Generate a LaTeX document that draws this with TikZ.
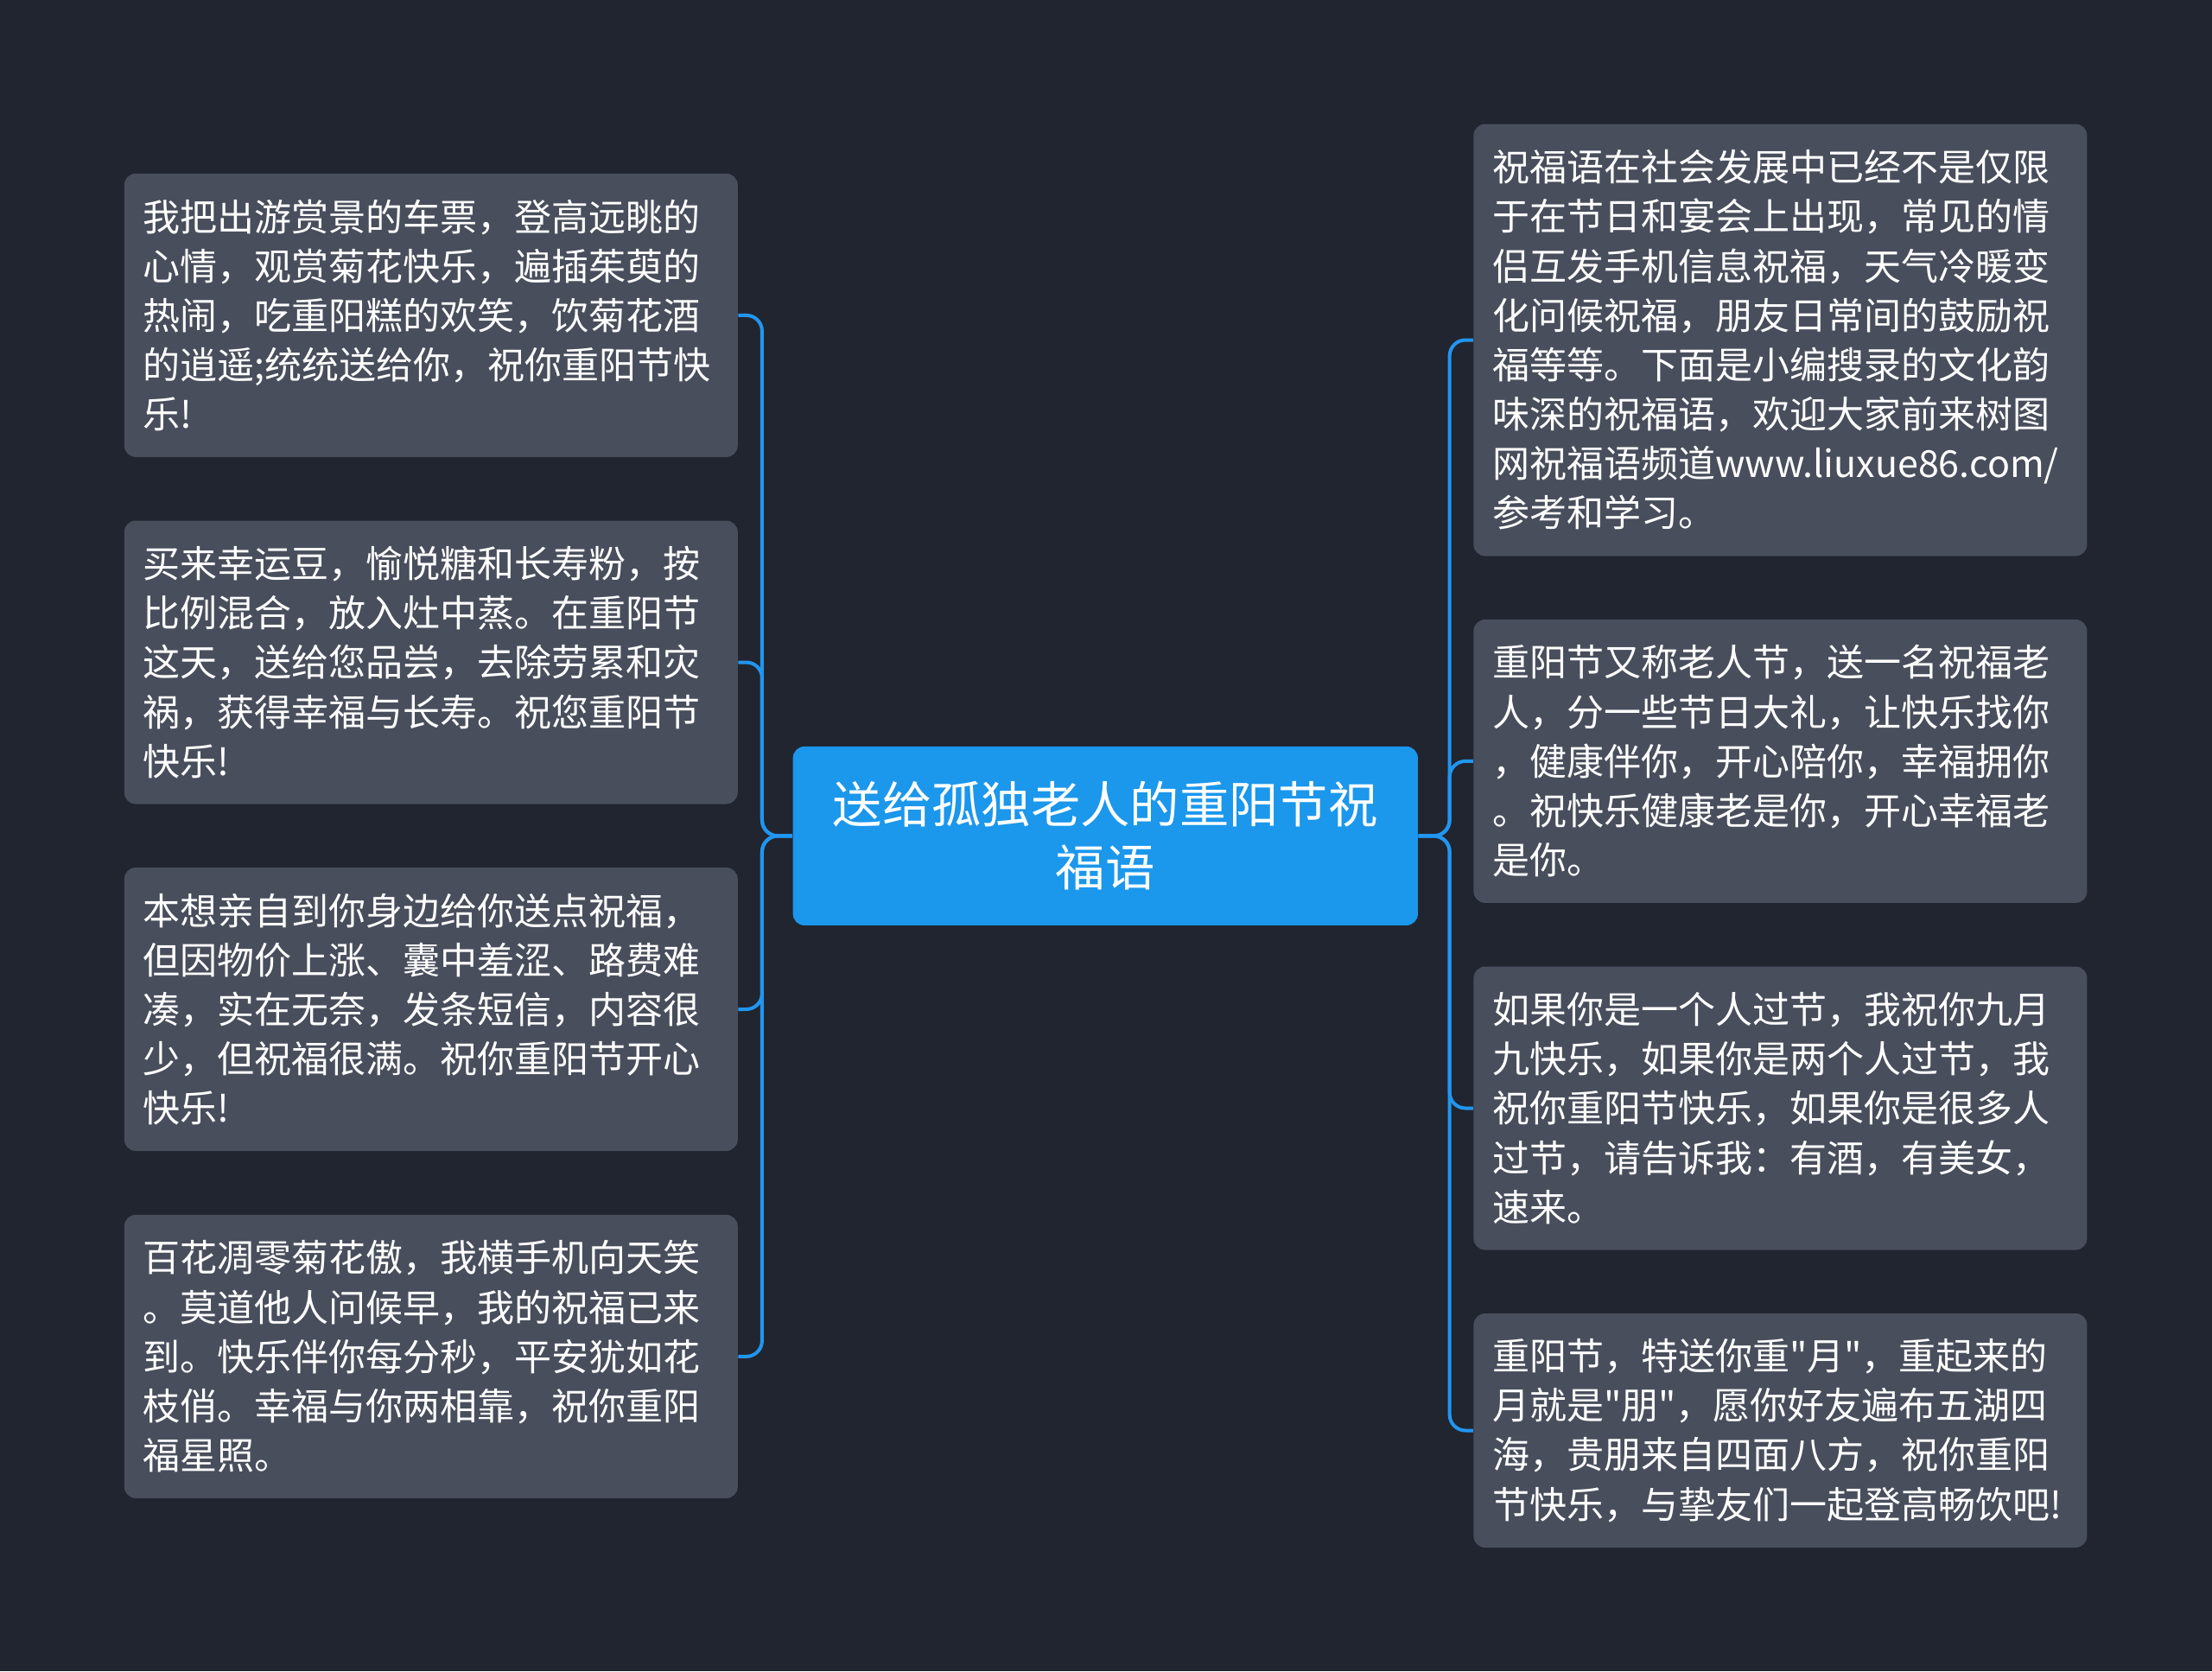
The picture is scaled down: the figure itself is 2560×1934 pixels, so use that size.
\documentclass[tikz,border=0pt]{standalone}
\usepackage{fontspec}
\setmainfont{Noto Sans CJK SC}[Ligatures=TeXOff]
\usepackage{tikz}

\definecolor{bgcol}{HTML}{21252F}
\definecolor{leafcol}{HTML}{484E5C}
\definecolor{rootcol}{HTML}{1B97EC}
\definecolor{linecol}{HTML}{2196F0}

\begin{document}
\begin{tikzpicture}[x=0.3pt,y=-0.3pt,
  leaf/.style={fill=leafcol,rounded corners=4pt,text=white,align=left,
    text width=200pt,inner xsep=6.4pt,inner ysep=0pt,minimum width=213pt,
    font=\fontsize{12.9}{17.15}\selectfont},
  link/.style={draw=linecol,line width=1.2pt,rounded corners=5.5pt}]
\fill[bgcol] (0,0) rectangle (2560,1934);

\node[fill=rootcol,rounded corners=4pt,text=white,align=center,minimum width=217pt,minimum height=62.1pt,inner sep=0pt,font=\fontsize{17.2}{22}\selectfont] (root) at (1279.3,967.4) {送给孤独老人的重阳节祝\\福语};

\node[leaf,minimum height=98.4pt] (l1) at (498.8,364.9) {我把出游赏景的车票，登高远眺的\\
心情，观赏菊花快乐，遍插茱萸的\\
热闹，吃重阳糕的欢笑，饮菊花酒\\
的逍遥;统统送给你，祝你重阳节快\\
乐!};
\node[leaf,minimum height=98.4pt] (l2) at (498.8,766.5) {买来幸运豆，愉悦糖和长寿粉，按\\
比例混合，放入灶中蒸。在重阳节\\
这天，送给您品尝，去除劳累和灾\\
祸，获得幸福与长寿。祝您重阳节\\
快乐!};
\node[leaf,minimum height=98.4pt] (l3) at (498.8,1168) {本想亲自到你身边给你送点祝福，\\
但因物价上涨、囊中羞涩、路费难\\
凑，实在无奈，发条短信，内容很\\
少，但祝福很满。祝你重阳节开心\\
快乐!};
\node[leaf,minimum height=98.4pt] (l4) at (498.8,1569.9) {百花凋零菊花傲，我横手机向天笑\\
。莫道他人问候早，我的祝福已来\\
到。快乐伴你每分秒，平安犹如花\\
枝俏。幸福与你两相靠，祝你重阳\\
福星照。};

\node[leaf,minimum height=150pt] (r1) at (2060.4,393.5) {祝福语在社会发展中已经不是仅限\\
于在节日和宴会上出现，常见的情\\
侣互发手机信息祝福，天气冷暖变\\
化问候祝福，朋友日常间的鼓励祝\\
福等等。下面是小编搜录的文化韵\\
味深的祝福语，欢迎大家前来树图\\
网祝福语频道www.liuxue86.com/\\
参考和学习。};
\node[leaf,minimum height=98.4pt] (r2) at (2060.4,880.9) {重阳节又称老人节，送一名祝福老\\
人，分一些节日大礼，让快乐找你\\
，健康伴你，开心陪你，幸福拥你\\
。祝快乐健康老是你，开心幸福老\\
是你。};
\node[leaf,minimum height=98.4pt] (r3) at (2060.4,1282.5) {如果你是一个人过节，我祝你九月\\
九快乐，如果你是两个人过节，我\\
祝你重阳节快乐，如果你是很多人\\
过节，请告诉我：有酒，有美女，\\
速来。};
\node[leaf,minimum height=81.3pt] (r4) at (2060.4,1655.5) {重阳节，特送你重"月"，重起来的\\
月就是"朋"，愿你好友遍布五湖四\\
海，贵朋来自四面八方，祝你重阳\\
节快乐，与挚友们一起登高畅饮吧!};

\draw[link] (root.west) -- ++(-35,0) |- (l1.east);
\draw[link] (root.west) -- ++(-35,0) |- (l2.east);
\draw[link] (root.west) -- ++(-35,0) |- (l3.east);
\draw[link] (root.west) -- ++(-35,0) |- (l4.east);
\draw[link] (root.east) -- ++(36,0) |- (r1.west);
\draw[link] (root.east) -- ++(36,0) |- (r2.west);
\draw[link] (root.east) -- ++(36,0) |- (r3.west);
\draw[link] (root.east) -- ++(36,0) |- (r4.west);
\end{tikzpicture}
\end{document}
